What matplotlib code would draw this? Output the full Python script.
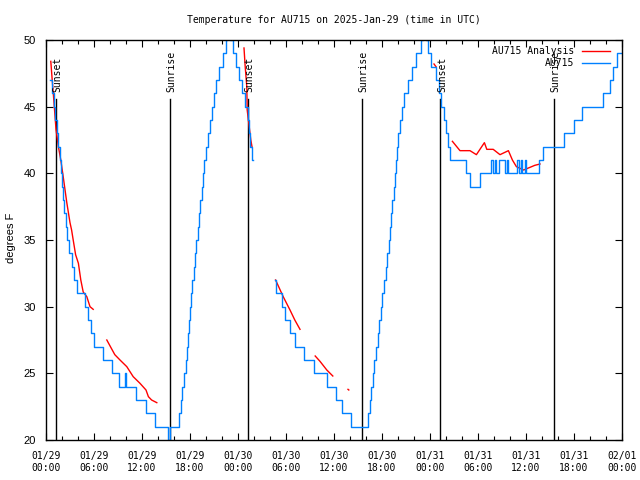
import numpy as np
import matplotlib
matplotlib.use("Agg")
import matplotlib.pyplot as plt
from matplotlib.ticker import MultipleLocator

# hours since 2025-01-29 00:00 UTC
title = "Temperature for AU715 on 2025-Jan-29 (time in UTC)"

# observed temperature (held until next reading)
obs_hours = [0.55, 0.8, 1.0, 1.15, 1.35, 1.5, 1.7, 1.85, 2.0, 2.15, 2.3, 2.45, 2.6, 2.9,
             3.2, 3.5, 3.9, 4.9, 5.3, 5.6, 6.0, 7.1, 8.3, 9.15, 9.85, 10.05, 11.3, 12.5,
             13.6, 15.3, 15.45, 16.6, 16.85, 17.05, 17.25, 17.45, 17.6, 17.75, 17.9, 18.0,
             18.15, 18.3, 18.45, 18.6, 18.75, 18.95, 19.1, 19.3, 19.45, 19.6, 19.8, 20.0,
             20.2, 20.45, 20.7, 20.95, 21.2, 21.65, 22.1, 22.45, 22.65, 23.0, 23.4, 23.8,
             24.1, 24.5, 24.9, 25.2, 25.35, 25.55, 25.75, 25.85,
             28.6, 28.75, 29.5, 29.85, 30.5, 31.1, 32.3, 33.5, 35.1, 36.3, 37.0, 38.1,
             40.2, 40.45, 40.65, 40.85, 41.05, 41.25, 41.45, 41.65, 41.85, 42.05, 42.25,
             42.45, 42.65, 42.85, 43.0, 43.15, 43.3, 43.45, 43.6, 43.75, 43.9, 44.05,
             44.25, 44.45, 44.7, 45.3, 45.8, 46.3, 46.85, 47.1, 47.45, 47.7, 48.1, 48.8,
             49.1, 49.4, 49.7, 49.95, 50.2, 50.55, 52.5, 52.95, 54.25, 55.6, 55.9, 56.1,
             56.3, 56.6, 57.35, 57.6, 57.75, 58.85, 59.1, 59.4, 59.55, 59.85, 60.05, 61.6,
             62.1, 64.75, 65.95, 66.95, 69.6, 70.5, 70.9, 71.4, 72.0]
obs_temp = [47, 46, 45, 44, 43, 42, 41, 40, 39, 38, 37, 36, 35, 34,
            33, 32, 31, 30, 29, 28, 27, 26, 25, 24, 25, 24, 23, 22,
            21, 20, 21, 22, 23, 24, 25, 26, 27, 28, 29, 30,
            31, 32, 33, 34, 35, 36, 37, 38, 39, 40, 41, 42,
            43, 44, 45, 46, 47, 48, 49, 50, 51, 50, 49, 48,
            47, 46, 45, 44, 43, 42, 41, np.nan,
            32, 31, 30, 29, 28, 27, 26, 25, 24, 23, 22, 21,
            22, 23, 24, 25, 26, 27, 28, 29, 30, 31, 32,
            33, 34, 35, 36, 37, 38, 39, 40, 41, 42, 43,
            44, 45, 46, 47, 48, 49, 50, 51, 50, 49, 48, 47,
            46, 45, 44, 43, 42, 41, 40, 39, 40, 41, 40, 41,
            40, 41, 40, 41, 40, 41, 40, 41, 40, 41, 40, 41,
            42, 43, 44, 45, 46, 47, 48, 49, 49]

# analysis temperature (nan = gap)
ana_hours = [0.6, 0.75, 0.9, 1.1, 1.25, 1.55, 1.85, 2.15, 2.6, 3.0, 3.2, 3.4, 3.7, 4.05,
             4.35, 4.65, 5.1, 5.5, 5.9, 6.5,
             7.6, 8.6, 9.25, 10.1, 10.9, 11.75, 12.5, 12.8, 13.2, 13.85, 14.5,
             24.75, 24.9, 25.1, 25.15, 25.4, 25.6, 25.75, 26.5,
             28.7, 29.65, 30.5, 31.1, 31.75, 32.5,
             33.65, 34.25, 35.1, 35.85, 36.5,
             37.75, 37.85, 38.5,
             48.5, 48.75, 49.5,
             50.8, 51.75, 53.0, 53.8, 54.8, 55.1, 55.9, 56.75, 57.8, 58.3, 58.8, 59.7,
             60.3, 61.1, 61.75]
ana_temp = [48.4, 47.2, 46.1, 44.5, 43.3, 42.0, 41.0, 39.75, 37.8, 36.3, 35.75, 35.0, 33.9, 33.25,
            32.0, 31.1, 30.75, 30.0, 29.8, np.nan,
            27.5, 26.4, 26.0, 25.5, 24.75, 24.25, 23.75, 23.25, 23.0, 22.8, np.nan,
            49.4, 48.0, 46.5, 44.75, 43.5, 42.5, 42.0, np.nan,
            32.0, 30.75, 29.75, 29.0, 28.3, np.nan,
            26.3, 25.9, 25.25, 24.8, np.nan,
            23.8, 23.75, np.nan,
            48.2, 48.0, np.nan,
            42.4, 41.7, 41.7, 41.4, 42.3, 41.8, 41.8, 41.4, 41.7, 41.0, 40.5, 40.25,
            40.4, 40.6, 40.7]

sunset_hours = [1.25, 25.27, 49.3]
sunrise_hours = [15.53, 39.5, 63.45]

tick_hours = [0, 6, 12, 18, 24, 30, 36, 42, 48, 54, 60, 66, 72]
tick_labels = ["01/29\n00:00", "01/29\n06:00", "01/29\n12:00", "01/29\n18:00",
               "01/30\n00:00", "01/30\n06:00", "01/30\n12:00", "01/30\n18:00",
               "01/31\n00:00", "01/31\n06:00", "01/31\n12:00", "01/31\n18:00",
               "02/01\n00:00"]

mono = "DejaVu Sans Mono"
sans = "Liberation Sans"

fig = plt.figure(figsize=(6.4, 4.8), dpi=100)
ax = fig.add_axes([46 / 640, 40 / 480, 576 / 640, 400 / 480])

# sunrise / sunset markers
for h in sunset_hours:
    ax.plot([h, h], [20, 45.6], color="black", lw=1.0)
    ax.text(h + 0.2, 46.1, "Sunset", rotation=90, ha="center", va="bottom",
            family=mono, fontsize=7)
for h in sunrise_hours:
    ax.plot([h, h], [20, 45.6], color="black", lw=1.0)
    ax.text(h + 0.2, 46.1, "Sunrise", rotation=90, ha="center", va="bottom",
            family=mono, fontsize=7)

ax.plot(ana_hours, ana_temp, color="#ff0000", lw=1.0, label="AU715 Analysis")
ax.plot(obs_hours, obs_temp, color="#0080ff", lw=1.0, drawstyle="steps-post", label="AU715")

ax.set_xlim(0, 72)
ax.set_ylim(20, 50)
ax.set_xticks(tick_hours)
ax.set_xticklabels(tick_labels, family=mono, fontsize=7)
ax.xaxis.set_minor_locator(MultipleLocator(2))
ax.set_yticks([20, 25, 30, 35, 40, 45, 50])
ax.set_yticklabels(["20", "25", "30", "35", "40", "45", "50"], family=sans, fontsize=8)
ax.tick_params(which="both", direction="in", top=True, right=True, width=0.8)
ax.tick_params(which="major", length=5)
ax.tick_params(which="minor", length=3)
ax.tick_params(axis="x", pad=8)
ax.tick_params(axis="y", pad=7)
for s in ax.spines.values():
    s.set_linewidth(1.0)

fig.text(11 / 640, 1 - 238 / 480, "degrees F", rotation=90, ha="center", va="center",
         family=sans, fontsize=8)
fig.text(334 / 640, 1 - 20 / 480, title, ha="center", va="center", family=mono, fontsize=7)

ax.legend(loc="upper right", bbox_to_anchor=(1 - 12 / 576, 1 - 6 / 400), frameon=False,
          markerfirst=False, prop={"family": mono, "size": 7}, handlelength=2.9,
          handletextpad=0.8, labelspacing=0.25, borderpad=0, borderaxespad=0)

fig.savefig("out.png", dpi=100)
